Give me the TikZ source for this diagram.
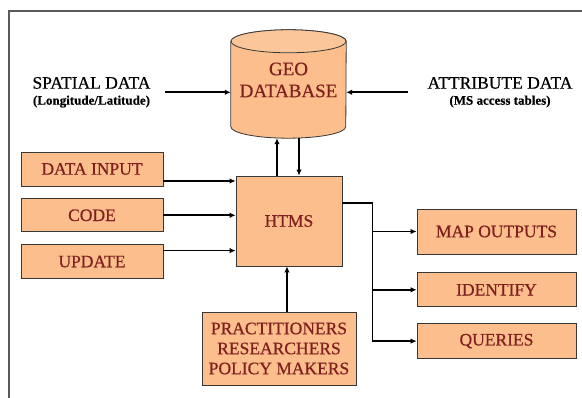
\documentclass[tikz,border=0pt]{standalone}
\usepackage{fontspec}
\setmainfont{Liberation Serif}
\newfontfamily{\timesfont}{Liberation Serif}[FakeBold=0.6]
\usepackage{xcolor}
\usetikzlibrary{positioning,arrows.meta,backgrounds}

\definecolor{boxfill}{RGB}{251,190,140}
\definecolor{boxtext}{RGB}{128,32,30}
\definecolor{boxline}{RGB}{55,55,55}
\definecolor{frameline}{RGB}{90,90,90}

\newcommand{\boxfont}{\timesfont\fontsize{17.5}{20}\selectfont}
\newcommand{\subfont}{\timesfont\fontsize{13}{15}\selectfont\bfseries}

\tikzset{
  unit/.style={rectangle, draw=boxline, line width=0.8pt, fill=boxfill,
    text=boxtext, font=\boxfont, inner sep=0pt, align=center},
  source/.style={font=\timesfont\fontsize{17.5}{16}\selectfont, inner sep=0pt, align=center},
  flow/.style={-{Latex[length=6pt,width=5.5pt]}, line width=1.6pt},
  link/.style={line width=1.6pt},
}

\begin{document}
\begin{tikzpicture}[x=1pt,y=1pt]
  \useasboundingbox (0,0) rectangle (582,398);
  % frame
  \draw[frameline, line width=1.6pt] (582,387) -- (9,387) -- (9,0);

  % Define nodes
  \node[source] (spatial) at (91.5,305.7) {SPATIAL DATA\\{\subfont (Longitude/Latitude)}}; %
  \node[source] (attr) at (500,305.7) {ATTRIBUTE DATA\\{\subfont (MS access tables)}}; %
  \node[minimum width=115pt, minimum height=108pt, inner sep=0pt,
    label={[text=boxtext, font=\timesfont\fontsize{19}{22}\selectfont, align=center, yshift=4pt]center:GEO\\DATABASE}]
    (geo) at (288.5,314) {};
  \node[unit, minimum width=142pt, minimum height=34pt] (input) at (92,229) {DATA INPUT};
  \node[unit, minimum width=142pt, minimum height=33pt, below=12pt of input] (code) {CODE};
  \node[unit, minimum width=142pt, minimum height=34pt, below=12pt of code] (update) {UPDATE};
  \node[unit, minimum width=106pt, minimum height=90pt] (htms) at (289,177) {HTMS};
  \node[unit, minimum width=154pt, minimum height=73pt] (users) at (279,49.5)
    {PRACTITIONERS\\RESEARCHERS\\POLICY MAKERS};
  \node[unit, minimum width=159pt, minimum height=45pt] (mapout) at (496.5,166.5) {MAP OUTPUTS};
  \node[unit, minimum width=159pt, minimum height=34pt, below=18pt of mapout] (ident) {IDENTIFY};
  \node[unit, minimum width=159pt, minimum height=35pt, below=16pt of ident] (query) {QUERIES};

  % database cylinder
  \begin{scope}[on background layer]
    \draw[boxline, line width=0.8pt, fill=boxfill]
      ([yshift=-11.5pt]geo.north west) -- ([yshift=11.5pt]geo.south west)
      arc[start angle=180, end angle=360, x radius=57.5pt, y radius=11.5pt]
      -- ([yshift=-11.5pt]geo.north east)
      arc[start angle=0, end angle=180, x radius=57.5pt, y radius=11.5pt] -- cycle;
    \draw[boxline, line width=0.8pt, fill=boxfill!88!white]
      ([yshift=-11.5pt]geo.north) ellipse[x radius=57.5pt, y radius=11.5pt];
  \end{scope}

  % edges
  \draw[flow, shorten <=14pt] (spatial.east) -- (spatial.east -| geo.west);
  \draw[flow, shorten <=19pt] (attr.west) -- (attr.west -| geo.east);
  \draw[flow] ([xshift=-12pt]htms.north) -- ([xshift=-12pt]htms.north |- geo.south);
  \draw[flow] ([xshift=10pt]htms.north |- geo.south) -- ([xshift=10pt]htms.north);
  \draw[flow] ([yshift=-12pt]input.east) -- ([yshift=-12pt]input.east -| htms.west);
  \draw[flow] (code.east) -- (code.east -| htms.west);
  \draw[flow] ([yshift=11pt]update.east) -- ([yshift=11pt]update.east -| htms.west);
  \draw[flow] ([xshift=8pt]users.north) -- ([xshift=8pt]users.north |- htms.south);
  \coordinate (fork) at ([xshift=30pt,yshift=18pt]htms.east);
  \draw[link] ([yshift=18pt]htms.east) -- (fork) -- (fork |- query.west);
  \draw[flow] (fork |- mapout.west) -- (mapout.west);
  \draw[flow] (fork |- ident.west) -- (ident.west);
  \draw[flow] (fork |- query.west) -- (query.west);
\end{tikzpicture}
\end{document}
